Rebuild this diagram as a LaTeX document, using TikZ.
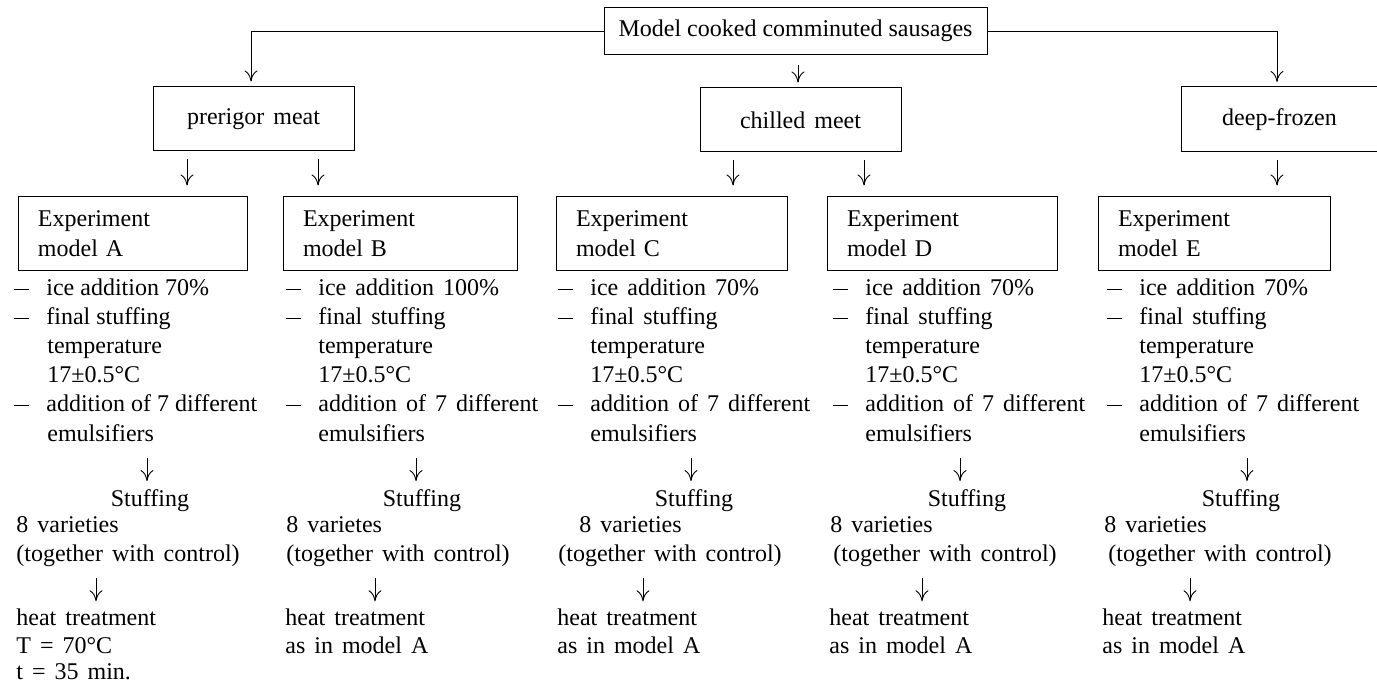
\documentclass[tikz,border=0pt]{standalone}
\usepackage{fontspec}
\setmainfont{Liberation Serif}
\usetikzlibrary{arrows.meta}
\newcommand\dsh{\makebox[16pt][l]{\rule[3pt]{7.5pt}{0.5pt}}}
\newcommand\wsp{\spaceskip=4.5pt plus 1pt minus 1pt\relax}
\begin{document}
\begin{tikzpicture}[x=0.5pt,y=-0.5pt,
  fnt/.style={font=\fontsize{12}{15}\selectfont\wsp},
  tight/.style={font=\fontsize{12}{15}\selectfont},
  box/.style={fnt,draw,line width=0.5pt,inner sep=0pt},
  ebox/.style={fnt,draw,line width=0.5pt,align=left,inner xsep=10pt,inner ysep=0pt,minimum height=37pt},
  txt/.style={fnt,anchor=base west,inner sep=0pt},
  ctxt/.style={fnt,anchor=base,inner sep=0pt},
  ln/.style={line width=0.5pt},
  arr/.style={-{To[length=5.5pt,width=6.5pt]},line width=0.45pt}]
\useasboundingbox (0,0) rectangle (1377,684);

% guide coordinates (x positions of the arrows)
\coordinate (gL) at (251,0);  \coordinate (gM) at (798,0);  \coordinate (gR) at (1277,0);
\coordinate (gA) at (187,0);  \coordinate (gB) at (318,0);  \coordinate (gC) at (733,0);
\coordinate (gD) at (864,0);  \coordinate (gE) at (1277,0);
\coordinate (sA) at (147,0);  \coordinate (sB) at (416,0);  \coordinate (sC) at (691,0);
\coordinate (sD) at (960,0);  \coordinate (sE) at (1247,0);
\coordinate (hA) at (96,0);   \coordinate (hB) at (375,0);  \coordinate (hC) at (643,0);
\coordinate (hD) at (922,0);  \coordinate (hE) at (1190,0);

% top
\node[box,tight,minimum width=191.5pt,minimum height=23.5pt] (top) at (795.5,31) {Model cooked comminuted sausages};

% level 2
\node[box,minimum width=100.5pt,minimum height=32pt] (pm) at (253.5,119) {prerigor meat};
\node[box,minimum width=100.5pt,minimum height=32pt] (cm) at (800.5,120) {chilled meet};
\node[box,draw=none,minimum width=97.5pt,minimum height=32pt] (df) at (1279.5,119.5) {deep-frozen};
\draw[ln] (df.north east) -- (df.north west) -- (df.south west) -- (df.south east);

% experiment boxes
\node[ebox,minimum width=114.5pt,text width=94.5pt] (eA) at (132.5,234) {Experiment\\model A};
\node[ebox,minimum width=117pt,text width=97pt] (eB) at (400,234) {Experiment\\model B};
\node[ebox,minimum width=115.5pt,text width=95.5pt] (eC) at (671.5,234) {Experiment\\model C};
\node[ebox,minimum width=115pt,text width=95pt] (eD) at (942,234) {Experiment\\model D};
\node[ebox,minimum width=116pt,text width=96pt] (eE) at (1214,234) {Experiment\\model E};

% column A
\node[txt,tight] (a1) at (14,296) {\dsh ice addition 70\%};
\node[txt,tight] (a2) at (14,325) {\dsh final stuffing};
\node[txt] (a3) at (47,354) {temperature};
\node[txt] (a4) at (47,383) {17±0.5°C};
\node[txt,tight] (a5) at (14,412) {\dsh addition of 7 different};
\node[txt] (a6) at (47,441) {emulsifiers};
\node[ctxt] (a7) at (150,506) {Stuffing};
\node[txt] (a8) at (16,532) {8 varieties};
\node[txt] (a9) at (16,561) {(together with control)};
\node[txt] (a10) at (16,625) {heat treatment};
\node[txt] (a11) at (16,653) {T = 70°C};
\node[txt] (a12) at (16,679) {t = 35 min.};

% column B
\node[txt] (b1) at (286,296) {\dsh ice addition 100\%};
\node[txt] (b2) at (286,325) {\dsh final stuffing};
\node[txt] (b3) at (318,354) {temperature};
\node[txt] (b4) at (318,383) {17±0.5°C};
\node[txt] (b5) at (286,412) {\dsh addition of 7 different};
\node[txt] (b6) at (318,441) {emulsifiers};
\node[ctxt] (b7) at (422,506) {Stuffing};
\node[txt] (b8) at (286,532) {8 varietes};
\node[txt] (b9) at (286,561) {(together with control)};
\node[txt] (b10) at (285,625) {heat treatment};
\node[txt] (b11) at (285,653) {as in model A};

% column C
\node[txt] (c1) at (558,296) {\dsh ice addition 70\%};
\node[txt] (c2) at (558,325) {\dsh final stuffing};
\node[txt] (c3) at (590,354) {temperature};
\node[txt] (c4) at (590,383) {17±0.5°C};
\node[txt] (c5) at (558,412) {\dsh addition of 7 different};
\node[txt] (c6) at (590,441) {emulsifiers};
\node[ctxt] (c7) at (694,506) {Stuffing};
\node[txt] (c8) at (579,532) {8 varieties};
\node[txt] (c9) at (558,561) {(together with control)};
\node[txt] (c10) at (557,625) {heat treatment};
\node[txt] (c11) at (557,653) {as in model A};

% column D
\node[txt] (d1) at (833,296) {\dsh ice addition 70\%};
\node[txt] (d2) at (833,325) {\dsh final stuffing};
\node[txt] (d3) at (865,354) {temperature};
\node[txt] (d4) at (865,383) {17±0.5°C};
\node[txt] (d5) at (833,412) {\dsh addition of 7 different};
\node[txt] (d6) at (865,441) {emulsifiers};
\node[ctxt] (d7) at (967,506) {Stuffing};
\node[txt] (d8) at (830,532) {8 varieties};
\node[txt] (d9) at (833,561) {(together with control)};
\node[txt] (d10) at (829,625) {heat treatment};
\node[txt] (d11) at (829,653) {as in model A};

% column E
\node[txt] (e1) at (1107,296) {\dsh ice addition 70\%};
\node[txt] (e2) at (1107,325) {\dsh final stuffing};
\node[txt] (e3) at (1139,354) {temperature};
\node[txt] (e4) at (1139,383) {17±0.5°C};
\node[txt] (e5) at (1107,412) {\dsh addition of 7 different};
\node[txt] (e6) at (1139,441) {emulsifiers};
\node[ctxt] (e7) at (1241,506) {Stuffing};
\node[txt] (e8) at (1104,532) {8 varieties};
\node[txt] (e9) at (1108,561) {(together with control)};
\node[txt] (e10) at (1102,625) {heat treatment};
\node[txt] (e11) at (1102,653) {as in model A};

% connectors from the top box
\draw[arr,shorten >=2.5pt] (top.west) -| (gL |- pm.north);
\draw[arr,shorten <=5pt,shorten >=2.5pt] (gM |- top.south) -- (gM |- cm.north);
\draw[arr,shorten >=2.5pt] (top.east) -| (gR |- df.north);

% level 2 -> experiments
\draw[arr,shorten <=4pt,shorten >=5.5pt] (gA |- pm.south) -- (gA |- eA.north);
\draw[arr,shorten <=4pt,shorten >=5.5pt] (gB |- pm.south) -- (gB |- eB.north);
\draw[arr,shorten <=4pt,shorten >=5.5pt] (gC |- cm.south) -- (gC |- eC.north);
\draw[arr,shorten <=4pt,shorten >=5.5pt] (gD |- cm.south) -- (gD |- eD.north);
\draw[arr,shorten <=4pt,shorten >=5.5pt] (gE |- df.south) -- (gE |- eE.north);

% emulsifiers -> Stuffing
\foreach \c/\s in {a/sA,b/sB,c/sC,d/sD,e/sE}
  \draw[arr,shorten <=8pt,shorten >=3.8pt] (\s |- \c6.south) -- (\s |- \c7.north);
% together with control -> heat treatment
\foreach \c/\h in {a/hA,b/hB,c/hC,d/hD,e/hE}
  \draw[arr,shorten <=5.5pt,shorten >=3.3pt] (\h |- \c9.south) -- (\h |- \c10.north);
\end{tikzpicture}
\end{document}
